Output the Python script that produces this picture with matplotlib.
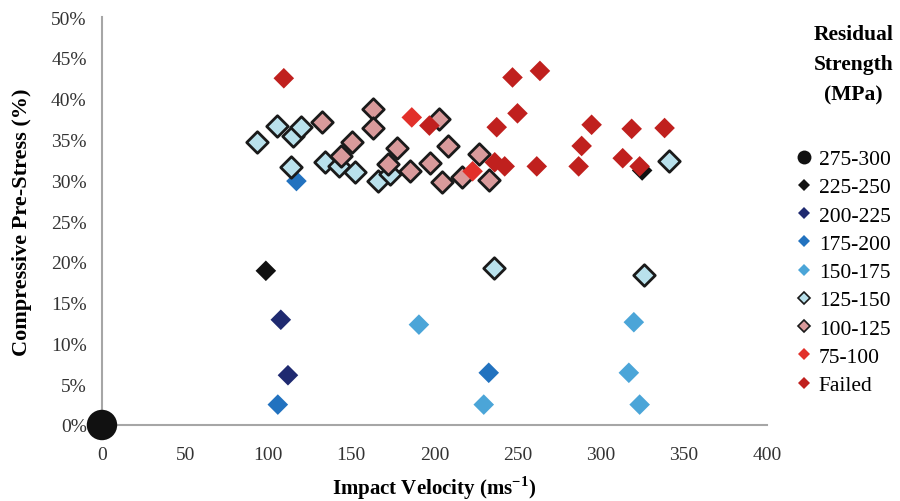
import matplotlib.pyplot as plt
from matplotlib.lines import Line2D

plt.rcParams["font.family"] = "Liberation Serif"

# impact velocity (m/s) and compressive pre-stress (%) for each residual strength band
v_275_300 = [0]
p_275_300 = [0]

v_225_250 = [98.6, 325.0]
p_225_250 = [18.9, 31.2]

v_200_225 = [107.6, 111.9]
p_200_225 = [12.9, 6.1]

v_175_200 = [105.8, 232.7, 117.0]
p_175_200 = [2.5, 6.4, 29.9]

v_150_175 = [190.7, 320.0, 317.0, 323.5, 229.7]
p_150_175 = [12.3, 12.6, 6.4, 2.5, 2.5]

v_125_150 = [93.2, 105.2, 115.0, 119.7, 114.0, 134.0, 142.5, 152.0, 166.0,
             173.0, 235.7, 326.0, 341.0]
p_125_150 = [34.7, 36.6, 35.4, 36.5, 31.6, 32.2, 31.8, 31.0, 29.9,
             30.8, 19.3, 18.4, 32.4]

v_100_125 = [132.3, 143.7, 150.3, 163.0, 163.0, 177.4, 172.0, 185.2, 197.2,
             202.6, 208.0, 204.4, 216.5, 226.7, 232.7]
p_100_125 = [37.2, 33.0, 34.7, 38.7, 36.4, 34.0, 32.0, 31.1, 32.1,
             37.5, 34.2, 29.8, 30.4, 33.2, 30.0]

v_75_100 = [186.4, 223.0]
p_75_100 = [37.7, 31.1]

v_failed = [109.4, 247.0, 263.5, 250.0, 237.5, 294.6, 318.7, 338.5, 288.6,
            261.6, 286.8, 313.3, 323.5, 197.0, 236.3, 242.3]
p_failed = [42.5, 42.6, 43.4, 38.2, 36.5, 36.8, 36.3, 36.4, 34.2,
            31.7, 31.7, 32.7, 31.7, 36.7, 32.2, 31.7]

labels = ["275-300", "225-250", "200-225", "175-200", "150-175",
          "125-150", "100-125", "75-100", "Failed"]

series = [
    (v_275_300, p_275_300, dict(marker="o", s=480, c="#111111", edgecolors="none")),
    (v_225_250, p_225_250, dict(marker="D", s=110, c="#111111", edgecolors="none")),
    (v_200_225, p_200_225, dict(marker="D", s=110, c="#1f2a70", edgecolors="none")),
    (v_175_200, p_175_200, dict(marker="D", s=110, c="#2272bf", edgecolors="none")),
    (v_150_175, p_150_175, dict(marker="D", s=110, c="#4ba5d8", edgecolors="none")),
    (v_125_150, p_125_150, dict(marker="D", s=120, c="#b9e1ec", edgecolors="#1a1a1a", linewidths=2)),
    (v_100_125, p_100_125, dict(marker="D", s=120, c="#d99a9b", edgecolors="#1a1a1a", linewidths=2)),
    (v_75_100, p_75_100, dict(marker="D", s=110, c="#e2302a", edgecolors="none")),
    (v_failed, p_failed, dict(marker="D", s=110, c="#c0201e", edgecolors="none")),
]

fig = plt.figure(figsize=(9, 5.02), dpi=100)
ax = fig.add_axes([0.1133, 0.1514, 0.7387, 0.8126])

for v, p, kw in series:
    ax.scatter(v, p, clip_on=False, zorder=3, **kw)

ax.set_xlim(0, 400)
ax.set_ylim(0, 50)
ax.set_xticks(range(0, 401, 50))
ax.set_yticks(range(0, 51, 5))
ax.set_yticklabels([f"{t}%" for t in range(0, 51, 5)])
ax.tick_params(length=0, labelsize=14, colors="#333333")
ax.tick_params(axis="x", pad=15)
ax.tick_params(axis="y", pad=11)
for side in ["top", "right"]:
    ax.spines[side].set_visible(False)
for side in ["left", "bottom"]:
    ax.spines[side].set_color("#a6a6a6")
    ax.spines[side].set_linewidth(1.5)

ax.set_xlabel("Impact Velocity (ms$^{\\mathregular{-1}}$)", fontsize=15,
              fontweight="bold")
ax.xaxis.set_label_coords(0.5, -0.118)
ax.set_ylabel("Compressive Pre-Stress (%)", fontsize=16, fontweight="bold")
ax.yaxis.set_label_coords(-0.105, 0.5)

# legend with smaller markers than the plotted points
handles = []
for (v, p, kw), lab in zip(series, labels):
    handles.append(Line2D([], [], linestyle="none", marker=kw["marker"],
                          markersize=10 if kw["marker"] == "o" else 6.5,
                          markerfacecolor=kw["c"],
                          markeredgecolor=kw["edgecolors"] if kw["edgecolors"] != "none" else kw["c"],
                          markeredgewidth=1.2 if kw["edgecolors"] != "none" else 0,
                          label=lab))
leg = fig.legend(handles=handles, loc="upper left", bbox_to_anchor=(0.874, 0.718),
                 frameon=False, fontsize=15.5, handlelength=0.8, handletextpad=0.3,
                 labelspacing=0.38, borderaxespad=0)

fig.text(0.948, 0.95, "Residual\nStrength\n(MPa)", ha="center", va="top",
         fontsize=15.5, fontweight="bold", linespacing=1.68)

fig.savefig("out.png", dpi=100)
